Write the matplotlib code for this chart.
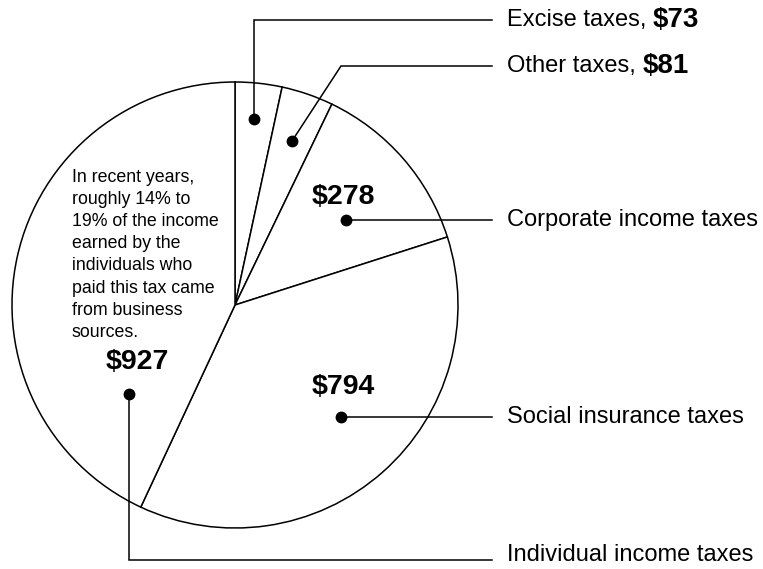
"""Federal tax receipts by source — pie with leader-line labels."""

import matplotlib
matplotlib.use("Agg")
import matplotlib.pyplot as plt

# ── data ─────────────────────────────────────────────────────────
categories = ["Excise taxes", "Other taxes", "Corporate income taxes",
              "Social insurance taxes", "Individual income taxes"]
values = [73, 81, 278, 794, 927]
note = ("In recent years,\nroughly 14% to\n19% of the income\nearned by the\n"
        "individuals who\npaid this tax came\nfrom business\nsources.")

# ── layout (pixel coordinates, y downwards) ──────────────────────
W, H = 763, 569
CENTER = (235, 305)
RADIUS = 223
LINE_END = 492
LABEL_X = 507
# leader path for each category: dot, elbow(s), then label row
leaders = [
    [(254, 119), (254, 20)],
    [(292, 141), (341, 66)],
    [(346, 220)],
    [(341, 417)],
    [(129, 394), (129, 560)],
]
value_pos = [None, None, (343, 197), (343, 387), (137, 362)]
inline_value = [True, True, False, False, False]
NOTE_X, NOTE_BASE, NOTE_STEP = 72, 182, 22.1

plt.rcParams["font.family"] = ["Liberation Sans", "DejaVu Sans"]

fig = plt.figure(figsize=(W / 100, H / 100), dpi=100)
ax = fig.add_axes([0, 0, 1, 1])

# y axis is inverted, so startangle=-90 is the top and ccw runs clockwise
ax.pie(values, center=CENTER, radius=RADIUS, startangle=-90,
       counterclock=True, colors=["white"] * len(values),
       wedgeprops=dict(edgecolor="black", linewidth=1.1), frame=True)
ax.set_xlim(0, W)
ax.set_ylim(H, 0)
ax.set_aspect("equal")
ax.axis("off")

renderer = fig.canvas.get_renderer()
for cat, val, path, vpos, inline in zip(categories, values, leaders,
                                        value_pos, inline_value):
    row_y = path[-1][1]
    xs = [p[0] for p in path] + [LINE_END]
    ys = [p[1] for p in path] + [row_y]
    ax.plot(xs, ys, color="black", linewidth=1.1, solid_joinstyle="miter")
    ax.plot(*path[0], "o", color="black", markersize=7.5)

    text_y = min(row_y, 555)
    if inline:
        t = ax.text(LABEL_X, text_y, f"{cat}, ", fontsize=17, va="center")
        bb = t.get_window_extent(renderer)
        x_end = ax.transData.inverted().transform((bb.x1, bb.y0))[0]
        ax.text(x_end, text_y, f"${val}", fontsize=20, fontweight="bold",
                va="center")
    else:
        ax.text(LABEL_X, text_y, cat, fontsize=17, va="center")
        ax.text(*vpos, f"${val}", fontsize=20.5, fontweight="bold",
                ha="center", va="center")

# explanatory note, one line at a time for exact leading
for i, line in enumerate(note.split("\n")):
    ax.text(NOTE_X, NOTE_BASE + i * NOTE_STEP, line, fontsize=12.8,
            va="baseline")

fig.savefig("out.png", dpi=100)
